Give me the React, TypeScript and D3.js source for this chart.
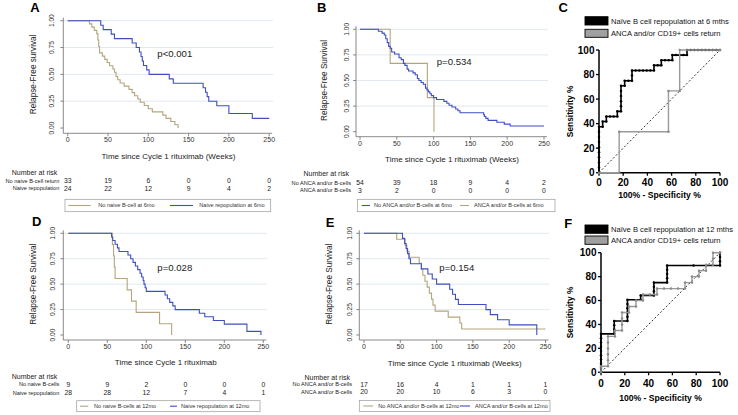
import React from 'react';
import * as d3 from 'd3';

type Pt = [number, number];

const FONT = "'Liberation Sans', Arial, Helvetica, sans-serif";
const TAN = '#b3a67c';
const BLUE = '#3d4fc2';

const weekTicks = [0, 50, 100, 150, 200, 250];
const survTicks = [0, 0.25, 0.5, 0.75, 1];
const rocTicks = [0, 20, 40, 60, 80, 100];

// ---------- Panel A ----------
const aNoNaive: Pt[] = [[0,1],[27,0.97],[30,0.94],[33,0.91],[36,0.88],[37.5,0.82],[38.5,0.76],[39.5,0.7],[43,0.67],[46,0.64],[49,0.61],[52,0.58],[56,0.55],[58,0.52],[60,0.48],[62,0.45],[65,0.42],[70,0.39],[76,0.36],[80,0.33],[83,0.3],[87,0.27],[90,0.24],[95,0.21],[100,0.18],[105,0.15],[118,0.12],[122,0.09],[128,0.06],[133,0.03],[137,0]];
const aNaive: Pt[] = [[0,1],[41,0.958],[44,0.917],[54,0.875],[58,0.833],[80,0.792],[85,0.75],[89,0.708],[91,0.667],[92.5,0.625],[94,0.583],[98,0.542],[101,0.5],[126,0.458],[131,0.417],[168,0.375],[171,0.333],[173,0.292],[175,0.25],[185,0.208],[200,0.135],[229,0.09],[250,0.09]];
const aRiskNoNaive = [33, 19, 6, 0, 0, 0];
const aRiskNaive = [24, 22, 12, 9, 4, 2];

// ---------- Panel B ----------
const bNoAnca: Pt[] = [[0,1],[25,0.981],[30,0.963],[33,0.944],[35,0.907],[37,0.87],[39,0.833],[41,0.815],[43,0.778],[47,0.759],[53,0.722],[56,0.704],[59,0.667],[61,0.648],[64,0.611],[66,0.593],[72,0.574],[75,0.556],[78,0.519],[80,0.5],[83,0.481],[86,0.463],[89,0.426],[91,0.407],[93,0.389],[95,0.37],[97,0.352],[100,0.333],[104,0.315],[114,0.296],[118,0.278],[121,0.259],[125,0.241],[130,0.222],[133,0.204],[136,0.185],[168,0.167],[169,0.148],[171,0.13],[174,0.111],[186,0.093],[196,0.074],[204,0.056],[250,0.056]];
const bAnca: Pt[] = [[0,1],[41,0.667],[91.5,0.333],[100.5,0]];
const bRiskNoAnca = [54, 39, 18, 9, 4, 2];
const bRiskAnca = [3, 2, 0, 0, 0, 0];

// ---------- Panel D ----------
const dNoNaive: Pt[] = [[0,1],[56.5,0.889],[58,0.778],[59,0.667],[60,0.556],[75.5,0.444],[81,0.333],[87,0.222],[117,0.111],[132.5,0]];
const dNaive: Pt[] = [[0,1],[55.5,0.964],[57,0.929],[60,0.893],[63,0.857],[65,0.821],[76.5,0.786],[80,0.75],[83,0.714],[86,0.679],[89,0.643],[92,0.607],[94,0.571],[96,0.536],[97,0.5],[98.5,0.464],[100,0.429],[124,0.393],[127,0.357],[130,0.321],[134,0.286],[137,0.25],[168,0.214],[175,0.179],[186,0.143],[200,0.107],[229,0.036],[247,0]];
const dRiskNoNaive = [9, 9, 2, 0, 0, 0];
const dRiskNaive = [28, 28, 12, 7, 4, 1];

// ---------- Panel E ----------
const eNoAnca: Pt[] = [[0,1],[45,0.941],[56.5,0.882],[59,0.824],[62,0.765],[76,0.706],[79,0.647],[81,0.588],[84,0.529],[87,0.471],[90,0.412],[93,0.353],[95,0.294],[98,0.235],[116,0.176],[132,0.118],[134.5,0.059],[250,0.059]];
const eAnca: Pt[] = [[0,1],[53,0.95],[56,0.9],[58,0.85],[60,0.8],[62,0.75],[64,0.7],[79,0.65],[88,0.6],[94,0.55],[100,0.5],[118,0.45],[122,0.4],[126,0.35],[130,0.3],[168,0.25],[174,0.2],[184,0.15],[200,0.1],[238,0]];
const eRiskNoAnca = [17, 16, 4, 1, 1, 1];
const eRiskAnca = [20, 20, 10, 6, 3, 0];

// ---------- Panel C (ROC) ----------
const cNaive: Pt[] = [[0,0],[0,4.17],[0,8.33],[0,12.5],[0,16.67],[0,20.83],[0,25],[0,29.17],[0,33.33],[0,37.5],[3.03,37.5],[3.03,41.67],[6.06,41.67],[6.06,45.83],[9.09,45.83],[12.12,45.83],[15.15,45.83],[15.15,50],[18.18,50],[18.18,54.17],[18.18,58.33],[18.18,62.5],[18.18,66.67],[18.18,70.83],[21.21,70.83],[21.21,75],[24.24,75],[27.27,75],[27.27,79.17],[27.27,83.33],[30.3,83.33],[33.33,83.33],[36.36,83.33],[39.39,83.33],[42.42,83.33],[45.45,83.33],[45.45,87.5],[48.48,87.5],[51.52,87.5],[51.52,91.67],[54.55,91.67],[57.58,91.67],[60.61,91.67],[60.61,95.83],[63.64,95.83],[66.67,95.83],[69.7,95.83],[72.73,95.83],[72.73,100],[75.76,100],[78.79,100],[81.82,100],[84.85,100],[87.88,100],[90.91,100],[93.94,100],[96.97,100],[100,100]];
const cAnca: Pt[] = [[0,0],[16.67,0],[16.67,33.33],[57.41,33.33],[57.41,66.67],[66.67,66.67],[66.67,100],[100,100]];

// ---------- Panel F (ROC) ----------
const fNaive: Pt[] = [[0,0],[0,3.57],[0,7.14],[0,10.71],[0,14.29],[0,17.86],[0,21.43],[0,25],[0,28.57],[0,32.14],[11.11,32.14],[11.11,35.71],[11.11,39.29],[11.11,42.86],[22.22,42.86],[22.22,46.43],[22.22,50],[22.22,53.57],[22.22,57.14],[22.22,60.71],[33.33,60.71],[33.33,64.29],[44.44,64.29],[44.44,67.86],[44.44,71.43],[44.44,75],[55.56,75],[55.56,78.57],[55.56,82.14],[55.56,85.71],[55.56,89.29],[77.78,89.29],[100,89.29],[100,92.86],[100,96.43],[100,100]];
const fAnca: Pt[] = [[0,0],[0,5],[5.88,5],[5.88,10],[5.88,15],[5.88,20],[5.88,25],[5.88,30],[11.76,30],[11.76,35],[17.65,35],[17.65,40],[17.65,45],[17.65,50],[23.53,50],[23.53,55],[29.41,55],[29.41,60],[35.29,60],[35.29,65],[41.18,65],[47.06,65],[47.06,70],[52.94,70],[58.82,70],[64.71,70],[70.59,70],[70.59,75],[76.47,75],[76.47,80],[82.35,80],[82.35,85],[88.24,85],[88.24,90],[94.12,90],[94.12,95],[94.12,100],[100,100]];
const rocDiagonal: Pt[] = [[0, 0], [100, 100]];

interface KMLayout {
  letter: string; letterPos: [number, number];
  xRange: [number, number]; yRange: [number, number];
  yAxisX: number; xAxisY: number; yTickX: number; yTitleX: number; yTitle: string;
  xTickY: number; xTitleY: number; xTitle: string;
  p: string; pPos: [number, number];
  riskHeadY: number; riskRowY: [number, number]; riskLabelX: number;
  legendBox: [number, number, number, number];
  legendItems: { lx0: number; lx1: number; tx: number }[];
}

function KMPanel({ L, curves, rows, legend }: {
  L: KMLayout;
  curves: { data: Pt[]; color: string }[];
  rows: { label: string; values: number[] }[];
  legend: { color: string; text: string }[];
}) {
  const x = d3.scaleLinear().domain([0, 250]).range(L.xRange);
  const y = d3.scaleLinear().domain([0, 1]).range(L.yRange);
  const line = d3.line<Pt>().x(d => x(d[0])).y(d => y(d[1])).curve(d3.curveStepAfter);
  const axisCol = '#6d6d6d';
  const ly = (L.legendBox[1] + L.legendBox[3]) / 2;
  return (
    <g fontFamily={FONT}>
      {survTicks.filter(t => t > 0).map(t => (
        <line key={'g' + t} x1={L.yAxisX} x2={x(250) + 4} y1={y(t)} y2={y(t)} stroke="#dfe7ee" strokeWidth={0.9} />
      ))}
      <line x1={L.yAxisX} x2={L.yAxisX} y1={y(1) - 3} y2={L.xAxisY} stroke={axisCol} strokeWidth={0.8} />
      <line x1={L.yAxisX} x2={x(250) + 3} y1={L.xAxisY} y2={L.xAxisY} stroke={axisCol} strokeWidth={0.8} />
      {survTicks.map(t => (
        <g key={'yt' + t}>
          <line x1={L.yAxisX - 3} x2={L.yAxisX} y1={y(t)} y2={y(t)} stroke={axisCol} strokeWidth={0.8} />
          <text transform={`translate(${L.yTickX},${y(t)}) rotate(-90)`} textAnchor="middle" dy="0.35em" fontSize={6.6} fill="#333">{t.toFixed(2)}</text>
        </g>
      ))}
      {weekTicks.map(t => (
        <g key={'xt' + t}>
          <line x1={x(t)} x2={x(t)} y1={L.xAxisY} y2={L.xAxisY + 3} stroke={axisCol} strokeWidth={0.8} />
          <text x={x(t)} y={L.xTickY} dy="0.35em" textAnchor="middle" fontSize={7} fill="#333">{t}</text>
        </g>
      ))}
      <text transform={`translate(${L.yTitleX},${(L.yRange[0] + L.yRange[1]) / 2}) rotate(-90)`} textAnchor="middle" dy="0.35em" fontSize={8.2} fill="#222">{L.yTitle}</text>
      <text x={(L.xRange[0] + L.xRange[1]) / 2} y={L.xTitleY} dy="0.35em" textAnchor="middle" fontSize={8} fill="#222">{L.xTitle}</text>
      {curves.map((c, i) => (
        <path key={'c' + i} d={line(c.data) || ''} fill="none" stroke={c.color} strokeWidth={1.1} />
      ))}
      <text x={L.pPos[0]} y={L.pPos[1]} dy="0.35em" fontSize={9.6} fill="#222">{L.p}</text>
      <text x={L.riskLabelX - 2} y={L.riskHeadY} dy="0.35em" textAnchor="end" fontSize={7} fill="#222">Number at risk</text>
      {rows.map((r, i) => (
        <g key={'r' + i}>
          <text x={L.riskLabelX} y={L.riskRowY[i]} dy="0.35em" textAnchor="end" fontSize={5.6} fill="#222">{r.label}</text>
          {r.values.map((v, j) => (
            <text key={j} x={x(weekTicks[j])} y={L.riskRowY[i]} dy="0.35em" textAnchor="middle" fontSize={6.8} fill="#222">{v}</text>
          ))}
        </g>
      ))}
      <rect x={L.legendBox[0]} y={L.legendBox[1]} width={L.legendBox[2] - L.legendBox[0]} height={L.legendBox[3] - L.legendBox[1]} fill="#fff" stroke="#9a9a9a" strokeWidth={0.7} />
      {legend.map((it, i) => (
        <g key={'l' + i}>
          <line x1={L.legendItems[i].lx0} x2={L.legendItems[i].lx1} y1={ly} y2={ly} stroke={it.color} strokeWidth={1.1} />
          <text x={L.legendItems[i].tx} y={ly} dy="0.35em" fontSize={5.6} fill="#333">{it.text}</text>
        </g>
      ))}
      <text x={L.letterPos[0]} y={L.letterPos[1]} dy="0.36em" textAnchor="middle" fontSize={13} fontWeight="bold" fill="#000">{L.letter}</text>
    </g>
  );
}

interface RocLayout {
  letter: string; letterPos: [number, number];
  x0: number; x1: number; yTop: number; yBot: number;
  legendY: [number, number][]; legendX: [number, number]; legendTextX: number;
  xTickY: number; xTitleY: number; yTitleX: number; yLabelRight: number;
}

function ROCPanel({ L, series, labels }: {
  L: RocLayout;
  series: { data: Pt[]; color: string; bead: string; width: number }[];
  labels: { text: string; fill: string }[];
}) {
  const x = d3.scaleLinear().domain([0, 100]).range([L.x0, L.x1]);
  const y = d3.scaleLinear().domain([0, 100]).range([L.yBot, L.yTop]);
  const line = d3.line<Pt>().x(d => x(d[0])).y(d => y(d[1]));
  return (
    <g fontFamily={FONT}>
      <path d={line(rocDiagonal) || ''} stroke="#000" strokeWidth={0.8} strokeDasharray="2,2" fill="none" />
      <line x1={L.x0} x2={L.x0} y1={L.yTop} y2={L.yBot} stroke="#000" strokeWidth={1.5} />
      <line x1={L.x0} x2={L.x1} y1={L.yBot} y2={L.yBot} stroke="#000" strokeWidth={1.5} />
      {rocTicks.map(t => (
        <g key={'t' + t}>
          <line x1={L.x0 - 3} x2={L.x0} y1={y(t)} y2={y(t)} stroke="#000" strokeWidth={1.3} />
          <text x={L.yLabelRight} y={y(t)} dy="0.36em" textAnchor="end" fontSize={10} fontWeight="bold">{t}</text>
          <line x1={x(t)} x2={x(t)} y1={L.yBot} y2={L.yBot + 3} stroke="#000" strokeWidth={1.3} />
          <text x={x(t)} y={L.xTickY} dy="0.36em" textAnchor="middle" fontSize={10} fontWeight="bold">{t}</text>
        </g>
      ))}
      {series.map((s, i) => (
        <g key={'s' + i}>
          <path d={line(s.data) || ''} fill="none" stroke={s.color} strokeWidth={s.width} />
          {s.data.map((d, j) => (
            <circle key={j} cx={x(d[0])} cy={y(d[1])} r={1.25} fill={s.bead} />
          ))}
        </g>
      ))}
      <text x={(L.x0 + L.x1) / 2} y={L.xTitleY} dy="0.36em" textAnchor="middle" fontSize={8.6} fontWeight="bold">100% - Specificity %</text>
      <text transform={`translate(${L.yTitleX},${(L.yTop + L.yBot) / 2}) rotate(-90)`} dy="0.36em" textAnchor="middle" fontSize={8.4} fontWeight="bold">Sensitivity %</text>
      {labels.map((lb, i) => (
        <g key={'lg' + i}>
          <rect x={L.legendX[0]} y={L.legendY[i][0]} width={L.legendX[1] - L.legendX[0]} height={L.legendY[i][1] - L.legendY[i][0]} fill={lb.fill} stroke="#000" strokeWidth={0.9} />
          <text x={L.legendTextX} y={(L.legendY[i][0] + L.legendY[i][1]) / 2} dy="0.36em" fontSize={7.6} fill="#111">{lb.text}</text>
        </g>
      ))}
      <text x={L.letterPos[0]} y={L.letterPos[1]} dy="0.36em" textAnchor="middle" fontSize={13} fontWeight="bold">{L.letter}</text>
    </g>
  );
}

const layoutA: KMLayout = {
  letter: 'A', letterPos: [35, 7], xRange: [67.7, 269.2], yRange: [128, 20.7],
  yAxisX: 63.3, xAxisY: 133.3, yTickX: 51.7, yTitleX: 33, yTitle: 'Relapse-Free survival',
  xTickY: 140, xTitleY: 156, xTitle: 'Time since Cycle 1 rituximab (Weeks)',
  p: 'p<0.001', pPos: [157.3, 53.3],
  riskHeadY: 173, riskRowY: [181, 188.3], riskLabelX: 59.3,
  legendBox: [65, 199.3, 270.7, 211.7],
  legendItems: [{ lx0: 68.3, lx1: 90.7, tx: 98.3 }, { lx0: 170, lx1: 193, tx: 199.3 }],
};
const layoutB: KMLayout = {
  letter: 'B', letterPos: [321.7, 7.3], xRange: [360, 544], yRange: [131.7, 29.3],
  yAxisX: 356, xAxisY: 136.7, yTickX: 346.7, yTitleX: 324, yTitle: 'Relapse-Free Survival',
  xTickY: 144, xTitleY: 159.3, xTitle: 'Time since Cycle 1 rituximab (Weeks)',
  p: 'p=0.534', pPos: [436.7, 61.7],
  riskHeadY: 174, riskRowY: [182.7, 190.3], riskLabelX: 351,
  legendBox: [357.3, 199.3, 555, 211.7],
  legendItems: [{ lx0: 361.7, lx1: 370, tx: 374 }, { lx0: 460, lx1: 469, tx: 474 }],
};
const layoutD: KMLayout = {
  letter: 'D', letterPos: [36.7, 221.7], xRange: [68.3, 263.3], yRange: [335, 233.3],
  yAxisX: 63.3, xAxisY: 340, yTickX: 53, yTitleX: 33.3, yTitle: 'Relapse-Free Survival',
  xTickY: 346.7, xTitleY: 361.7, xTitle: 'Time since Cycle 1 rituximab',
  p: 'p=0.028', pPos: [157.3, 267.3],
  riskHeadY: 376.7, riskRowY: [384.3, 392.7], riskLabelX: 59.3,
  legendBox: [76.7, 400.7, 260, 411.7],
  legendItems: [{ lx0: 80, lx1: 88.3, tx: 94 }, { lx0: 170, lx1: 177, tx: 181 }],
};
const layoutE: KMLayout = {
  letter: 'E', letterPos: [330, 222.7], xRange: [364, 545.5], yRange: [335, 233.3],
  yAxisX: 359.3, xAxisY: 340, yTickX: 350, yTitleX: 329.3, yTitle: 'Relapse-Free Survival',
  xTickY: 346.7, xTitleY: 362.7, xTitle: 'Time since Cycle 1 rituximab (Weeks)',
  p: 'p=0.154', pPos: [439.3, 267.3],
  riskHeadY: 377.3, riskRowY: [384.3, 391.7], riskLabelX: 352,
  legendBox: [359.3, 400.5, 550, 411.5],
  legendItems: [{ lx0: 363.3, lx1: 373, tx: 378.3 }, { lx0: 460, lx1: 470, tx: 475 }],
};
const layoutC: RocLayout = {
  letter: 'C', letterPos: [563.3, 7.3], x0: 599, x1: 720, yTop: 50, yBot: 172.7,
  legendY: [[16.7, 25], [29.3, 37.3]], legendX: [585, 608], legendTextX: 611,
  xTickY: 182.7, xTitleY: 195, yTitleX: 570, yLabelRight: 594.5,
};
const layoutF: RocLayout = {
  letter: 'F', letterPos: [568.3, 223.3], x0: 601, x1: 720, yTop: 252.7, yBot: 372.3,
  legendY: [[225, 233.3], [236, 244.3]], legendX: [585, 608], legendTextX: 611,
  xTickY: 383.3, xTitleY: 397.7, yTitleX: 570, yLabelRight: 596.5,
};

export default function App() {
  return (
    <svg width={738} height={415} viewBox="0 0 738 415" style={{ position: 'absolute', left: 0, top: 0, background: '#fff' }}>
      <rect width={738} height={415} fill="#fff" />
      <KMPanel L={layoutA}
        curves={[{ data: aNoNaive, color: TAN }, { data: aNaive, color: BLUE }]}
        rows={[{ label: 'No naive B-cell return', values: aRiskNoNaive }, { label: 'Naive repopulation', values: aRiskNaive }]}
        legend={[{ color: TAN, text: 'No naive B-cell at 6mo' }, { color: BLUE, text: 'Naive repopulation at 6mo' }]} />
      <KMPanel L={layoutB}
        curves={[{ data: bAnca, color: TAN }, { data: bNoAnca, color: BLUE }]}
        rows={[{ label: 'No ANCA and/or B-cells', values: bRiskNoAnca }, { label: 'ANCA and/or B-cells', values: bRiskAnca }]}
        legend={[{ color: BLUE, text: 'No ANCA and/or B-cells at 6mo' }, { color: TAN, text: 'ANCA and/or B-cells at 6mo' }]} />
      <KMPanel L={layoutD}
        curves={[{ data: dNoNaive, color: TAN }, { data: dNaive, color: BLUE }]}
        rows={[{ label: 'No naive B-cells', values: dRiskNoNaive }, { label: 'Naive repopulation', values: dRiskNaive }]}
        legend={[{ color: TAN, text: 'No naive B-cells at 12mo' }, { color: BLUE, text: 'Naive repopulation at 12mo' }]} />
      <KMPanel L={layoutE}
        curves={[{ data: eNoAnca, color: TAN }, { data: eAnca, color: BLUE }]}
        rows={[{ label: 'No ANCA and/or B-cells', values: eRiskNoAnca }, { label: 'ANCA and/or B-cells', values: eRiskAnca }]}
        legend={[{ color: TAN, text: 'No ANCA and/or B-cells at 12mo' }, { color: BLUE, text: 'ANCA and/or B-cells at 12mo' }]} />
      <ROCPanel L={layoutC}
        series={[{ data: cNaive, color: '#000', bead: '#000', width: 1.6 }, { data: cAnca, color: '#9a9a9a', bead: '#8a8a8a', width: 1.4 }]}
        labels={[{ text: 'Naïve B cell repopulation at 6 mths', fill: '#000' }, { text: 'ANCA and/or CD19+ cells return', fill: '#a0a0a0' }]} />
      <ROCPanel L={layoutF}
        series={[{ data: fNaive, color: '#000', bead: '#000', width: 1.6 }, { data: fAnca, color: '#9a9a9a', bead: '#8a8a8a', width: 1.4 }]}
        labels={[{ text: 'Naïve B cell repopulation at 12 mths', fill: '#000' }, { text: 'ANCA and/or CD19+ cells return', fill: '#a0a0a0' }]} />
    </svg>
  );
}
